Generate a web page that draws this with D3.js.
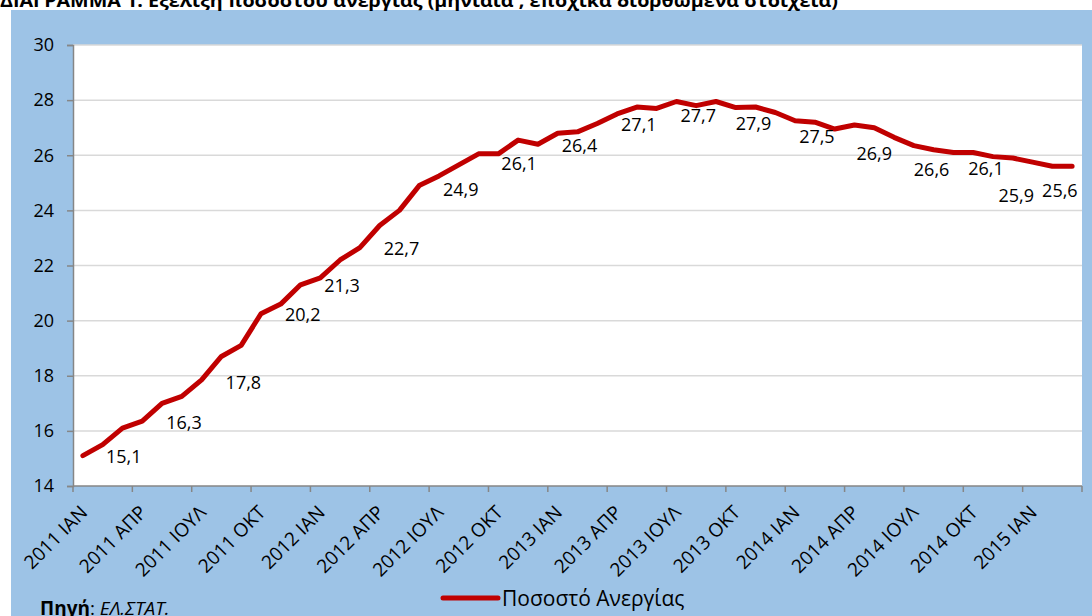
<!DOCTYPE html>
<html>
<head>
<meta charset="utf-8">
<script src="https://cdn.jsdelivr.net/npm/d3@7/dist/d3.min.js"></script>
<style>
  html, body { margin: 0; padding: 0; background: #ffffff; }
  svg { display: block; font-family: "Open Sans", "Noto Sans", sans-serif; }
</style>
</head>
<body>
<svg id="chart" width="1092" height="616"></svg>
<script>
// ---------------- data ----------------
const monthNames = ["ΙΑΝ","ΦΕΒ","ΜΑΡ","ΑΠΡ","ΜΑΪ","ΙΟΥΝ","ΙΟΥΛ","ΑΥΓ","ΣΕΠ","ΟΚΤ","ΝΟΕ","ΔΕΚ"];
const years = [2011, 2012, 2013, 2014, 2015];
const categories = years.flatMap(y => monthNames.map(m => y + " " + m)).slice(0, 51);

const unemployment = [
  15.1, 15.5, 16.1, 16.35, 17.0, 17.25, 17.85, 18.7, 19.1, 20.25, 20.6, 21.3,
  21.55, 22.2, 22.65, 23.45, 24.0, 24.9, 25.25, 25.65, 26.05, 26.05, 26.55, 26.4,
  26.8, 26.85, 27.15, 27.5, 27.75, 27.7, 27.95, 27.8, 27.95, 27.73, 27.75, 27.55,
  27.25, 27.2, 26.95, 27.1, 27.0, 26.65, 26.35, 26.2, 26.1, 26.1, 25.95, 25.9,
  25.75, 25.6, 25.6
];

const yTicks = [14, 16, 18, 20, 22, 24, 26, 28, 30];
const xTickLabels = categories.filter((d, i) => i % 3 === 0);

const labelText = ["15,1","16,3","17,8","20,2","21,3","22,7","24,9","26,1","26,4",
                   "27,1","27,7","27,9","27,5","26,9","26,6","26,1","25,9","25,6"];
const labelCategory = ["2011 ΙΑΝ","2011 ΑΠΡ","2011 ΙΟΥΛ","2011 ΟΚΤ","2012 ΙΑΝ","2012 ΑΠΡ",
                       "2012 ΙΟΥΛ","2012 ΟΚΤ","2013 ΙΑΝ","2013 ΑΠΡ","2013 ΙΟΥΛ","2013 ΟΚΤ",
                       "2014 ΙΑΝ","2014 ΑΠΡ","2014 ΙΟΥΛ","2014 ΟΚΤ","2015 ΙΑΝ","2015 ΜΑΡ"];

const seriesName = "Ποσοστό Ανεργίας";
const titleText = "ΔΙΑΓΡΑΜΜΑ 1: Εξέλιξη ποσοστού ανεργίας (μηνιαία , εποχικά διορθωμένα στοιχεία)";

// label layout nudges (pixels) – manual placement seen in the original
const labelNudgeX = [23,24,24,24,4,4,4,3,4,4,4,0,4,2,0,-5,-34,-30];
const labelNudgeY = [1,0,1,0,1,2,4,11,1,0,7,21,23,23,31,16,38,24];

// ---------------- layout ----------------
const W = 1092, H = 616;
const plot = { left: 73, right: 1082, top: 45, bottom: 486 };
const RED = "#C00000";
const BLUE = "#9DC3E6";

const svg = d3.select("#chart");

svg.append("rect").attr("x", 0).attr("y", 0).attr("width", W).attr("height", H).attr("fill", "#ffffff");
svg.append("rect").attr("x", 11).attr("y", 10).attr("width", W - 11).attr("height", H - 10).attr("fill", BLUE);

// title (cut off at the top, as in the source)
svg.append("text")
  .attr("x", 0).attr("y", 7)
  .attr("font-size", 18).attr("font-weight", "bold").attr("fill", "#000")
  .attr("textLength", 838).attr("lengthAdjust", "spacingAndGlyphs")
  .text(titleText);

// plot area
svg.append("rect")
  .attr("x", plot.left).attr("y", plot.top)
  .attr("width", plot.right - plot.left).attr("height", plot.bottom - plot.top)
  .attr("fill", "#ffffff");

const x = d3.scaleBand().domain(categories).range([plot.left, plot.right]).padding(0);
const y = d3.scaleLinear().domain([14, 30]).range([plot.bottom, plot.top]);
const cx = d => x(d) + x.bandwidth() / 2;

// gridlines
svg.append("g").selectAll("line")
  .data(yTicks.filter(t => t > 14))
  .join("line")
  .attr("x1", plot.left).attr("x2", plot.right)
  .attr("y1", d => y(d)).attr("y2", d => y(d))
  .attr("stroke", "#D9D9D9").attr("stroke-width", 1.5);

// y axis
const yAxis = svg.append("g")
  .attr("transform", `translate(${plot.left},0)`)
  .call(d3.axisLeft(y).tickValues(yTicks).tickSize(6).tickPadding(13).tickFormat(d3.format("d")));
yAxis.select(".domain").attr("stroke", "#868686").attr("stroke-width", 1.5);
yAxis.selectAll(".tick line").attr("stroke", "#868686").attr("stroke-width", 1.5);
yAxis.selectAll(".tick text")
  .attr("font-family", "Open Sans, sans-serif").attr("font-size", 18).attr("fill", "#000");

// x axis (ticks between categories every 3 months)
const xg = svg.append("g");
xg.append("line")
  .attr("x1", plot.left).attr("x2", plot.right)
  .attr("y1", plot.bottom).attr("y2", plot.bottom)
  .attr("stroke", "#868686").attr("stroke-width", 1.5);
const tickPos = xTickLabels.map(d => x(d)).concat([x.range()[1]]);
xg.selectAll("line.tick")
  .data(tickPos)
  .join("line").attr("class", "tick")
  .attr("x1", d => d).attr("x2", d => d)
  .attr("y1", plot.bottom).attr("y2", plot.bottom + 6)
  .attr("stroke", "#868686").attr("stroke-width", 1.5);
const xl = xg.selectAll("g.xlab")
  .data(xTickLabels)
  .join("g").attr("class", "xlab")
  .attr("transform", d => `translate(${cx(d) + 1},509)`);
xl.append("text")
  .attr("transform", "rotate(-45)")
  .attr("text-anchor", "end").attr("dy", "0.35em")
  .attr("font-size", 19).attr("fill", "#000")
  .text(d => d);

// line
const line = d3.line().x((d, i) => cx(categories[i])).y(d => y(d)).curve(d3.curveLinear);
svg.append("path")
  .datum(unemployment)
  .attr("d", line)
  .attr("fill", "none").attr("stroke", RED).attr("stroke-width", 5)
  .attr("stroke-linejoin", "round").attr("stroke-linecap", "round");

// data labels
svg.append("g").selectAll("text")
  .data(labelText)
  .join("text")
  .attr("x", (d, i) => cx(labelCategory[i]) + labelNudgeX[i])
  .attr("y", (d, i) => y(+d.replace(",", ".")) + labelNudgeY[i])
  .attr("dy", "0.35em")
  .attr("font-size", 18).attr("fill", "#000")
  .text(d => d);

// legend
const lg = svg.append("g");
lg.append("line")
  .attr("x1", 443).attr("x2", 498).attr("y1", 598).attr("y2", 598)
  .attr("stroke", RED).attr("stroke-width", 5).attr("stroke-linecap", "round");
lg.append("text")
  .attr("x", 502).attr("y", 606)
  .attr("font-size", 21).attr("fill", "#000")
  .text(seriesName);

// source
const src = svg.append("text").attr("x", 40).attr("y", 615).attr("font-size", 19).attr("fill", "#000");
src.append("tspan").attr("font-weight", "bold").text("Πηγή");
src.append("tspan").text(": ");
src.append("tspan").attr("font-style", "italic").text("ΕΛ.ΣΤΑΤ.");
</script>
</body>
</html>
